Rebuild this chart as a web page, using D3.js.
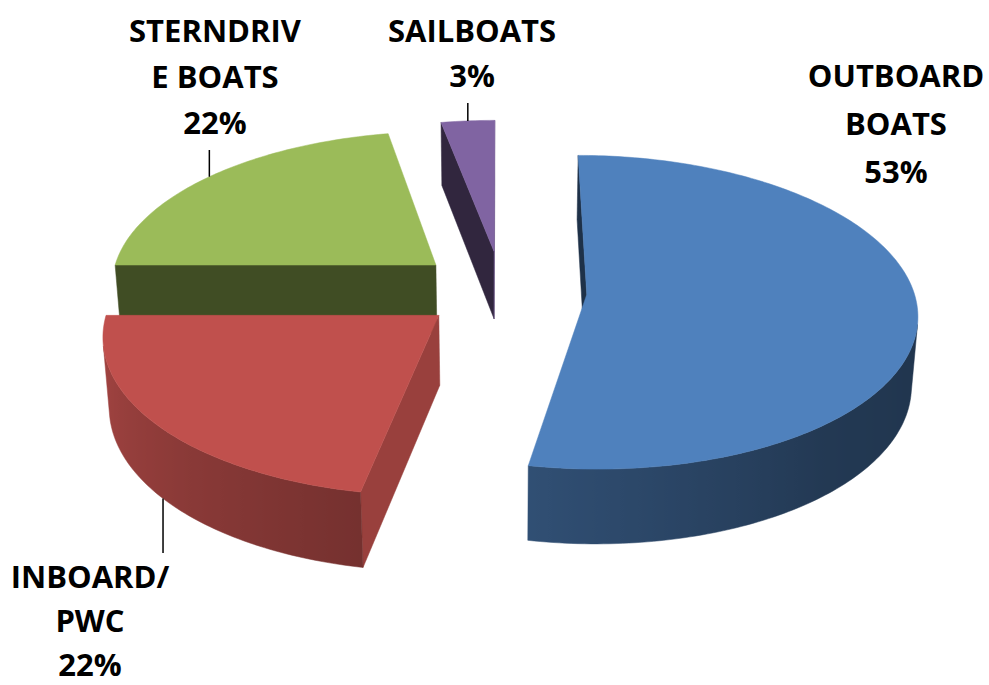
<!DOCTYPE html>
<html>
<head>
<meta charset="utf-8">
<script src="https://cdn.jsdelivr.net/npm/d3@7"></script>
<style>
  body { margin: 0; background: #fff; }
  text { font-family: "Open Sans", sans-serif; font-weight: bold; }
</style>
</head>
<body>
<svg id="chart" width="989" height="685"></svg>
<script>
/* Chart data. */
const categories = ["OUTBOARD BOATS", "INBOARD/PWC", "STERNDRIVE BOATS", "SAILBOATS"]
const values = [53, 22, 22, 3]
const labelLines = [["OUTBOARD", "BOATS", "53%"], ["INBOARD/", "PWC", "22%"], ["STERNDRIV", "E BOATS", "22%"], ["SAILBOATS", "3%"]]
const colors = ["#4f81bd", "#c0504d", "#9bbb59", "#8064a2"]
const explosion = [0.26, 0.246, 0.267, 0.265]

/* Camera for the 3d look: center, scale, tilt, distance, thickness. */
const view = { px: 501.9, py: 359.8, k: 321.9, tilt: 0.5177, dist: 7.84, h: 0.243 }

const TAU = Math.PI * 2
const arcs = d3.pie().sort(null).value(d => d).startAngle(0).endAngle(TAU)(values)

/* Perspective projection of a world point (pie lies flat, radius 1). */
const ca = Math.cos(view.tilt), sa = Math.sin(view.tilt)
const proj = (X, Y, Z) => {
  const yv = Y * ca + Z * sa, zv = Z * ca - Y * sa, f = view.dist / (view.dist + zv)
  return [view.px + view.k * X * f, view.py - view.k * yv * f]
}
const cam = [0, view.dist * sa, -view.dist * ca]

/* Shading of the sides. */
const wallShade = d3.scaleLinear().domain([90, 140, 270]).range([0.4, 0.44, 0.88]).clamp(true)
const faceShade = d3.scaleLinear().domain([100, 180, 270]).range([0.8, 0.41, 0.38]).clamp(true)
const shade = (c, f) => { const r = d3.rgb(c); return d3.rgb(r.r * f, r.g * f, r.b * f).formatHex() }
const deg = v => ((v * 180 / Math.PI) % 360 + 360) % 360
const line = d3.line()

const svg = d3.select("#chart")
const defs = svg.append("defs")
const h = view.h

/* Slice geometry helpers. */
const offset = i => {
  const mid = (arcs[i].startAngle + arcs[i].endAngle) / 2
  return [explosion[i] * Math.sin(mid), explosion[i] * Math.cos(mid)]
}
const rim = (i, t, Y) => { const [ox, oz] = offset(i); return [ox + Math.sin(t), Y, oz + Math.cos(t)] }
const visible = (nx, nz, p) => nx * (cam[0] - p[0]) + nz * (cam[2] - p[2]) > 0

/* Draw back slices first. */
const order = d3.range(values.length).sort((i, j) => offset(j)[1] - offset(i)[1])

order.forEach(i => {
  const d = arcs[i], col = colors[i]
  const [ox, oz] = offset(i)
  const n = Math.max(2, Math.ceil((d.endAngle - d.startAngle) / (TAU / 360)))
  const ts = d3.range(n + 1).map(j => d.startAngle + (d.endAngle - d.startAngle) * j / n)
  const g = svg.append("g")

  /* Cut faces. */
  ;[[d.startAngle, -Math.cos(d.startAngle), Math.sin(d.startAngle)],
    [d.endAngle, Math.cos(d.endAngle), -Math.sin(d.endAngle)]].forEach(([t, nx, nz]) => {
    if (!visible(nx, nz, [ox, 0, oz])) return
    const pts = [proj(ox, h, oz), proj(...rim(i, t, h)), proj(...rim(i, t, 0)), proj(ox, 0, oz)]
    const c = shade(col, faceShade(deg(Math.atan2(nx, nz))))
    g.append("path").attr("d", line(pts) + "Z").attr("fill", c).attr("stroke", c).attr("stroke-width", 0.5)
  })

  /* Outer wall: one path over the visible part, with a horizontal gradient. */
  const vis = ts.filter(t => visible(Math.sin(t), Math.cos(t), rim(i, t, 0)))
  if (vis.length > 1) {
    const topPts = vis.map(t => proj(...rim(i, t, h)))
    const botPts = vis.map(t => proj(...rim(i, t, 0)))
    const xs = topPts.map(p => p[0])
    const x0 = d3.min(xs), x1 = d3.max(xs)
    const grad = defs.append("linearGradient").attr("id", "wall" + i)
      .attr("gradientUnits", "userSpaceOnUse").attr("x1", x0).attr("x2", x1).attr("y1", 0).attr("y2", 0)
    const stops = vis.map((t, j) => [(xs[j] - x0) / (x1 - x0 || 1), shade(col, wallShade(deg(t)))])
      .sort((a, b) => a[0] - b[0])
    stops.forEach(s => grad.append("stop").attr("offset", s[0]).attr("stop-color", s[1]))
    g.append("path").attr("d", line(topPts.concat(botPts.reverse())) + "Z")
      .attr("fill", `url(#wall${i})`).attr("stroke", `url(#wall${i})`).attr("stroke-width", 0.5)
  }

  /* Top face. */
  const top = [proj(ox, h, oz)].concat(ts.map(t => proj(...rim(i, t, h))))
  g.append("path").attr("d", line(top) + "Z").attr("fill", col).attr("stroke", col).attr("stroke-width", 0.5)
})

/* Labels: center x, first baseline, line step, leader side. */
const labelPos = [[896, 87, 48, null], [90, 588, 44, "below"], [215, 42, 46, "above"], [472, 42, 45, "above"]]
labelLines.forEach((lines, i) => {
  const [x, y0, dy, lead] = labelPos[i]
  const t = svg.append("text").attr("text-anchor", "middle").attr("font-size", 31).attr("fill", "#000")
  lines.forEach((s, j) => t.append("tspan").attr("x", x).attr("y", y0 + j * dy).text(s))

  if (lead) {
    const mid = (arcs[i].startAngle + arcs[i].endAngle) / 2
    if (lead === "above") {
      const p = proj(...rim(i, mid, h))
      const yStart = y0 + (lines.length - 1) * dy + 16
      svg.append("line").attr("x1", p[0]).attr("x2", p[0]).attr("y1", yStart).attr("y2", p[1])
        .attr("stroke", "#000").attr("stroke-width", 1.5)
    } else {
      const p = proj(...rim(i, mid, 0))
      svg.append("line").attr("x1", p[0]).attr("x2", p[0]).attr("y1", p[1]).attr("y2", y0 - 35)
        .attr("stroke", "#000").attr("stroke-width", 1.5)
    }
  }
})
</script>
</body>
</html>
